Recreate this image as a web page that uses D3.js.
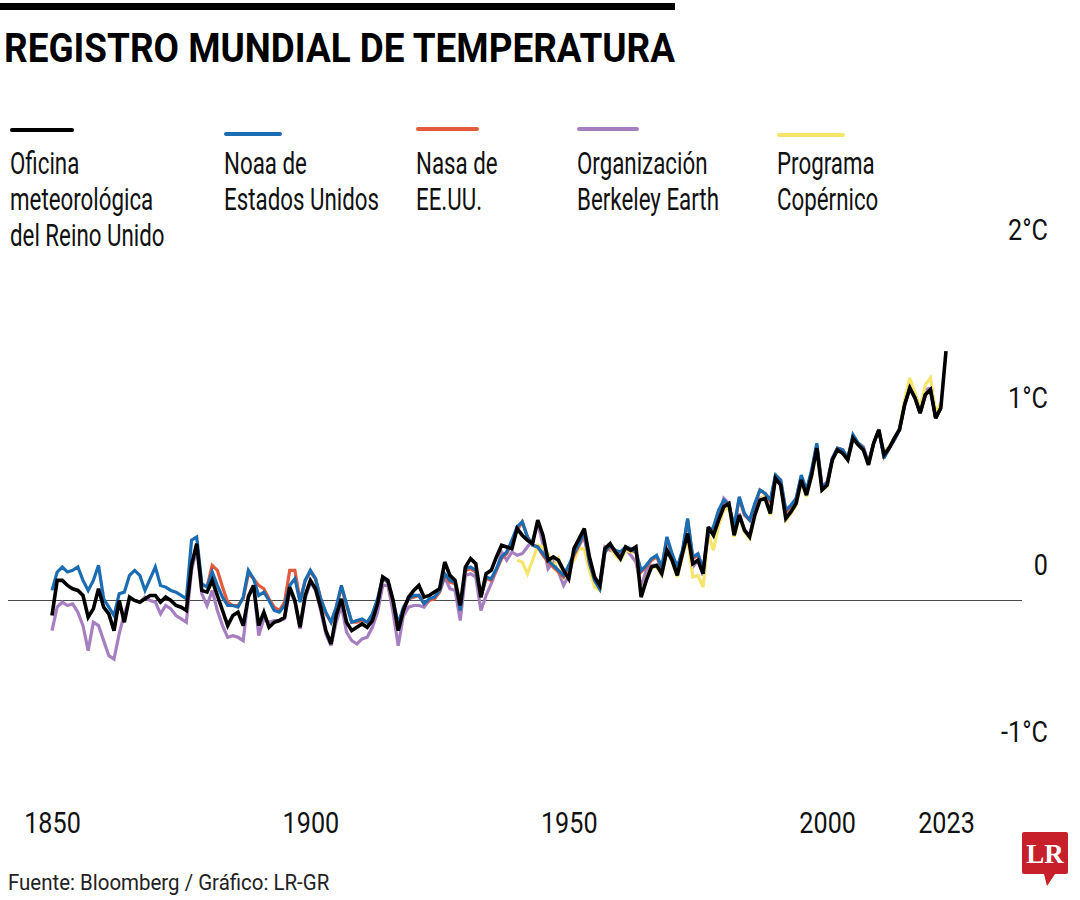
<!DOCTYPE html>
<html><head><meta charset="utf-8">
<script src="https://cdn.jsdelivr.net/npm/d3@7"></script>
<style>
body{margin:0;background:#fff;}
svg{display:block;font-family:'Liberation Sans Narrow','Arial Narrow','Roboto',sans-serif;}
</style></head><body>
<svg id="c" width="1080" height="900"></svg>
<script>
// ---------- DATA (°C anomalies) ----------
const titleText = "REGISTRO MUNDIAL DE TEMPERATURA";
const sourceText = "Fuente: Bloomberg / Gráfico: LR-GR";

const xTicks = [1850, 1900, 1950, 2000, 2023];
const yTicks = [2, 1, 0, -1];
const yTickLabels = ["2°C", "1°C", "0", "-1°C"];
const referenceLine = -0.22;

const seriesNames = ["Oficina\nmeteorológica\ndel Reino Unido", "Noaa de\nEstados Unidos", "Nasa de\nEE.UU.", "Organización\nBerkeley Earth", "Programa\nCopérnico"];
const seriesKeys = ["hadcrut", "noaa", "nasa", "berkeley", "copernicus"];
const seriesStart = [1850, 1850, 1880, 1850, 1940];

const hadcrut = [
-0.31,-0.10,-0.10,-0.13,-0.15,-0.16,-0.19,-0.32,-0.27,-0.15,
-0.26,-0.30,-0.40,-0.22,-0.35,-0.20,-0.22,-0.23,-0.21,-0.19,
-0.19,-0.23,-0.20,-0.22,-0.25,-0.26,-0.28,-0.01,0.12,-0.16,
-0.17,-0.10,-0.19,-0.28,-0.37,-0.31,-0.29,-0.37,-0.20,-0.13,
-0.37,-0.29,-0.38,-0.35,-0.34,-0.32,-0.14,-0.22,-0.38,-0.19,
-0.10,-0.15,-0.26,-0.40,-0.48,-0.31,-0.21,-0.35,-0.40,-0.38,
-0.36,-0.38,-0.34,-0.24,-0.08,-0.10,-0.22,-0.40,-0.28,-0.20,
-0.16,-0.13,-0.20,-0.19,-0.17,-0.15,0.01,-0.07,-0.10,-0.25,
-0.02,0.03,0.00,-0.20,-0.06,-0.04,0.04,0.11,0.10,0.09,
0.21,0.17,0.14,0.12,0.26,0.17,0.02,0.04,0.02,-0.04,
-0.09,0.09,0.15,0.21,0.04,-0.08,-0.13,0.09,0.12,0.07,
0.03,0.10,0.08,0.10,-0.20,-0.10,-0.02,-0.01,-0.06,0.08,
0.02,-0.07,0.06,0.18,0.00,0.02,-0.06,0.22,0.17,0.26,
0.34,0.36,0.17,0.29,0.20,0.16,0.29,0.38,0.39,0.30,
0.51,0.47,0.27,0.31,0.36,0.50,0.41,0.53,0.69,0.44,
0.47,0.62,0.68,0.66,0.62,0.75,0.71,0.68,0.59,0.72,
0.80,0.65,0.69,0.75,0.80,0.95,1.05,0.99,0.90,1.01,
1.04,0.87,0.93,1.27];

const noaa = [
-0.16,-0.05,-0.02,-0.05,-0.04,-0.02,-0.10,-0.16,-0.10,-0.01,
-0.21,-0.26,-0.31,-0.18,-0.17,-0.07,-0.04,-0.07,-0.16,-0.09,
-0.02,-0.13,-0.14,-0.16,-0.17,-0.19,-0.21,0.14,0.16,-0.12,
-0.14,-0.05,-0.13,-0.20,-0.25,-0.25,-0.26,-0.20,-0.04,-0.09,
-0.19,-0.17,-0.22,-0.28,-0.29,-0.25,-0.13,-0.09,-0.23,-0.10,
-0.04,-0.09,-0.21,-0.29,-0.35,-0.26,-0.13,-0.24,-0.35,-0.34,
-0.33,-0.35,-0.30,-0.21,-0.08,-0.11,-0.22,-0.36,-0.26,-0.21,
-0.19,-0.19,-0.24,-0.21,-0.20,-0.16,-0.06,-0.10,-0.11,-0.28,
-0.03,-0.02,-0.04,-0.20,-0.08,-0.09,-0.03,0.04,0.07,0.14,
0.22,0.25,0.16,0.11,0.10,0.06,0.02,-0.01,-0.04,-0.07,
-0.01,0.06,0.12,0.19,0.01,-0.10,-0.15,0.07,0.11,0.08,
0.07,0.10,0.09,0.07,-0.04,-0.01,0.03,0.05,-0.02,0.16,
0.06,-0.02,0.08,0.27,0.04,0.06,-0.03,0.18,0.22,0.32,
0.38,0.35,0.22,0.40,0.30,0.26,0.36,0.44,0.42,0.38,
0.53,0.50,0.32,0.35,0.39,0.53,0.44,0.56,0.72,0.46,
0.48,0.63,0.69,0.68,0.63,0.77,0.72,0.69,0.60,0.72,
0.80,0.63,0.69,0.74,0.80,0.95,1.05,0.99,0.90,1.01,
1.04,0.87,0.93];

const nasa = [
-0.14,-0.01,-0.04,-0.14,-0.23,-0.25,-0.25,-0.21,-0.06,-0.09,
-0.13,-0.15,-0.21,-0.26,-0.28,-0.23,-0.04,-0.04,-0.22,-0.10,
-0.05,-0.09,-0.21,-0.30,-0.35,-0.26,-0.14,-0.25,-0.35,-0.35,
-0.34,-0.35,-0.31,-0.22,-0.09,-0.11,-0.23,-0.36,-0.27,-0.21,
-0.20,-0.19,-0.24,-0.22,-0.21,-0.17,-0.07,-0.11,-0.12,-0.28,
-0.04,-0.03,-0.05,-0.20,-0.09,-0.10,-0.04,0.03,0.06,0.13,
0.20,0.25,0.16,0.11,0.10,0.05,0.01,-0.02,-0.05,-0.08,
-0.02,0.05,0.11,0.18,0.00,-0.10,-0.15,0.07,0.10,0.07,
0.06,0.09,0.08,0.07,-0.05,-0.02,0.02,0.04,-0.03,0.15,
0.05,-0.03,0.07,0.26,0.03,0.05,-0.04,0.18,0.21,0.31,
0.37,0.35,0.22,0.39,0.29,0.26,0.35,0.44,0.42,0.37,
0.52,0.50,0.31,0.34,0.39,0.52,0.43,0.55,0.71,0.46,
0.48,0.62,0.69,0.68,0.63,0.76,0.72,0.69,0.60,0.72,
0.80,0.64,0.69,0.74,0.80,0.95,1.05,0.99,0.90,1.01,
1.04,0.87,0.93];

const berkeley = [
-0.40,-0.26,-0.23,-0.25,-0.24,-0.29,-0.37,-0.52,-0.35,-0.37,
-0.46,-0.55,-0.57,-0.42,-0.30,-0.21,-0.22,-0.23,-0.20,-0.22,
-0.23,-0.30,-0.25,-0.27,-0.31,-0.33,-0.35,-0.04,0.09,-0.18,
-0.25,-0.16,-0.28,-0.37,-0.44,-0.43,-0.44,-0.46,-0.19,-0.13,
-0.43,-0.33,-0.35,-0.34,-0.34,-0.33,-0.16,-0.23,-0.39,-0.21,
-0.11,-0.16,-0.28,-0.42,-0.49,-0.35,-0.25,-0.41,-0.46,-0.48,
-0.45,-0.44,-0.38,-0.29,-0.13,-0.13,-0.29,-0.49,-0.31,-0.26,
-0.25,-0.25,-0.26,-0.22,-0.20,-0.17,-0.08,-0.15,-0.16,-0.34,
-0.07,-0.06,-0.08,-0.28,-0.19,-0.12,-0.04,0.07,0.02,0.07,
0.05,0.06,0.10,0.14,0.24,0.12,-0.03,0.01,-0.05,-0.13,
-0.07,0.05,0.11,0.16,-0.01,-0.09,-0.12,0.10,0.08,0.07,
0.05,0.09,0.05,0.01,-0.14,-0.04,-0.01,-0.01,-0.05,0.09,
0.02,-0.07,0.05,0.18,-0.02,0.02,-0.07,0.20,0.18,0.27,
0.39,0.36,0.18,0.30,0.20,0.17,0.30,0.39,0.40,0.31,
0.51,0.47,0.29,0.32,0.37,0.50,0.41,0.53,0.70,0.46,
0.49,0.63,0.69,0.68,0.63,0.76,0.72,0.70,0.60,0.72,
0.80,0.66,0.70,0.75,0.81,0.96,1.07,1.01,0.92,1.04,
1.05,0.89,0.95];

const copernicus = [
0.02,0.01,-0.06,0.02,0.11,0.10,0.06,-0.02,0.03,-0.09,
-0.01,0.02,0.09,0.09,-0.04,-0.14,-0.16,0.07,0.10,0.05,
0.02,0.08,0.07,0.07,-0.19,-0.09,-0.02,-0.02,-0.07,0.08,
0.01,-0.08,0.04,0.16,-0.08,-0.07,-0.14,0.18,0.08,0.23,
0.32,0.34,0.16,0.28,0.19,0.15,0.29,0.38,0.41,0.29,
0.54,0.47,0.26,0.30,0.35,0.49,0.40,0.52,0.69,0.44,
0.46,0.62,0.68,0.66,0.62,0.75,0.72,0.69,0.59,0.72,
0.80,0.65,0.70,0.75,0.81,0.98,1.11,1.02,0.93,1.07,
1.11,0.90,0.96];

const seriesValues = [hadcrut, noaa, nasa, berkeley, copernicus];

// ---------- STYLE ----------
const colors = ["#000000", "#1b6db3", "#e35a3c", "#a67fc0", "#f5e56b"];
const widths = [3.6, 3.2, 3.2, 3.2, 3.2];
const drawOrder = [3, 4, 2, 1, 0]; // berkeley, copernicus, nasa, noaa, hadcrut on top
const legendX = [10, 224, 416, 577, 777];
const legendLineW = [62, 56, 61, 60, 66];
const legendLineY = [130, 134, 129, 129, 135];

const svg = d3.select("#c");
const textFont = "'Liberation Sans Narrow','Arial Narrow','Roboto',sans-serif";

// top bar
svg.append("rect").attr("x", 0).attr("y", 3).attr("width", 675).attr("height", 7).attr("fill", "#000");

// title
svg.append("text").attr("x", 4).attr("y", 62)
  .attr("font-weight", "bold").attr("font-size", 41)
  .attr("textLength", 671).attr("lengthAdjust", "spacingAndGlyphs")
  .attr("fill", "#000").text(titleText);

// scales
const x = d3.scaleLinear().domain([1850, 2023]).range([52, 946]);
const y = d3.scaleLinear().domain([-1, 2]).range([731, 229]);

// reference line
svg.append("line")
  .attr("x1", 8).attr("x2", 1022)
  .attr("y1", y(referenceLine)).attr("y2", y(referenceLine))
  .attr("stroke", "#4a4a4a").attr("stroke-width", 1.2);

// lines
const line = d3.line().x(d => x(d.year)).y(d => y(d.value)).curve(d3.curveLinear);
drawOrder.forEach(i => {
  const data = seriesValues[i].map((v, k) => ({year: seriesStart[i] + k, value: v}));
  svg.append("path").datum(data)
    .attr("d", line)
    .attr("fill", "none")
    .attr("stroke", colors[i])
    .attr("stroke-width", widths[i])
    .attr("stroke-linejoin", "miter")
    .attr("stroke-miterlimit", 3);
});

// legend (condensed look via horizontal scale)
const condense = 0.72;
seriesNames.forEach((name, i) => {
  svg.append("line")
    .attr("x1", legendX[i] + 2).attr("x2", legendX[i] + legendLineW[i])
    .attr("y1", legendLineY[i]).attr("y2", legendLineY[i])
    .attr("stroke", colors[i]).attr("stroke-width", 4).attr("stroke-linecap", "round");
  const t = svg.append("text")
    .attr("transform", `translate(${legendX[i]},0) scale(${condense},1)`)
    .attr("font-size", 31).attr("fill", "#111");
  name.split("\n").forEach((ln, j) => {
    t.append("tspan").attr("x", 0).attr("y", 174 + j * 36).text(ln);
  });
});

// x axis
const xAxis = d3.axisBottom(x).tickValues(xTicks).tickSize(0).tickFormat(d3.format("d"));
const gx = svg.append("g").attr("transform", "translate(0,822)").call(xAxis);
gx.select(".domain").remove();
gx.selectAll("text").attr("y", 0).attr("dy", "0.36em")
  .attr("transform", "scale(0.84,1)")
  .attr("font-size", 30).attr("font-family", textFont).attr("fill", "#111");

// y axis
const yAxis = d3.axisRight(y).tickValues(yTicks).tickSize(0).tickFormat((d, i) => yTickLabels[i]);
const gy = svg.append("g").attr("transform", "translate(1048,0)").call(yAxis);
gy.select(".domain").remove();
gy.selectAll("text").attr("x", 0).attr("dy", "0.36em").attr("text-anchor", "end")
  .attr("transform", "scale(0.84,1)")
  .attr("font-size", 30).attr("font-family", textFont).attr("fill", "#111");

// source
svg.append("text").attr("transform", "translate(8,0) scale(0.93,1)")
  .attr("x", 0).attr("y", 890).attr("font-size", 22).attr("fill", "#222").text(sourceText);

// LR logo
svg.append("path")
  .attr("d", "M1024,832 H1066 Q1068,832 1068,834 V872 Q1068,874 1066,874 H1055 L1047,886 L1044,874 H1024 Q1022,874 1022,872 V834 Q1022,832 1024,832 Z")
  .attr("fill", "#c8202a");
svg.append("text").attr("x", 1045).attr("y", 863).attr("text-anchor", "middle")
  .attr("font-family", "'Liberation Serif','DejaVu Serif',serif").attr("font-weight", "bold")
  .attr("font-size", 27).attr("fill", "#fff").text("LR");
</script>
</body></html>
